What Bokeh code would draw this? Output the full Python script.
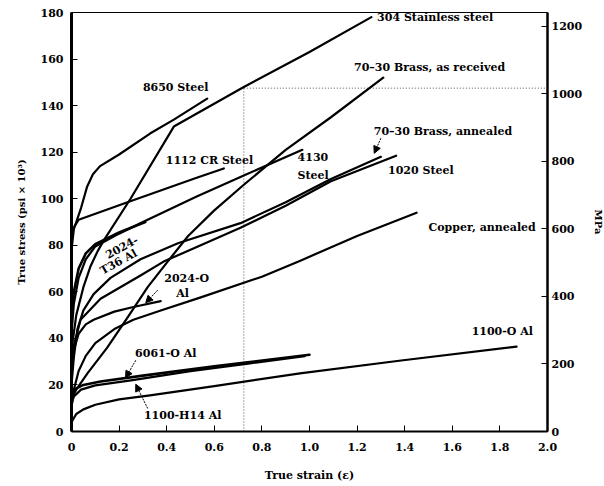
from bokeh.plotting import figure
from bokeh.models import Range1d, LinearAxis, FixedTicker, Label, Arrow, NormalHead
from bokeh.embed import file_html
from bokeh.resources import INLINE

# ---------------- data (true strain, true stress in ksi) ----------------
strain_304 = [0, 0.02, 0.05, 0.08, 0.11, 0.135, 0.248, 0.43, 0.724, 1.0, 1.26]
stress_304 = [35, 50, 62, 71, 77.5, 82, 100, 131, 148, 163, 178]

strain_brass_rec = [0, 0.02, 0.067, 0.15, 0.236, 0.32, 0.404, 0.49, 0.6, 0.724, 0.9, 1.09, 1.31]
stress_brass_rec = [14, 18, 25, 36, 49, 62, 73, 84, 95, 106, 121, 135, 152]

strain_8650 = [0, 0.01, 0.04, 0.065, 0.09, 0.12, 0.2, 0.33, 0.43, 0.57]
stress_8650 = [78, 87, 96, 105, 110.5, 114, 119, 128, 134, 143]

strain_1112 = [0, 0.03, 0.25, 0.526, 0.64]
stress_1112 = [86, 91, 99, 109, 113]

strain_4130 = [0, 0.01, 0.03, 0.06, 0.1, 0.2, 0.3, 0.526, 0.724, 0.97]
stress_4130 = [42, 55, 66, 74, 79.5, 85, 90, 101, 110, 121]

strain_brass_ann = [0, 0.01, 0.025, 0.05, 0.093, 0.164, 0.29, 0.45, 0.71, 0.9, 1.09, 1.3]
stress_brass_ann = [20, 32, 44, 52, 59, 66, 74, 81, 89.5, 98.5, 108.5, 118]

strain_1020 = [0, 0.01, 0.038, 0.122, 0.29, 0.387, 0.543, 0.71, 0.9, 1.09, 1.364]
stress_1020 = [28, 37, 48, 57, 67, 73, 80, 87.5, 97, 107.5, 118.5]

strain_copper = [0, 0.01, 0.03, 0.06, 0.1, 0.18, 0.26, 0.375, 0.54, 0.8, 0.964, 1.2, 1.45]
stress_copper = [10, 18, 26, 32.5, 38, 44, 48, 52, 57.5, 66.5, 73.5, 84, 94]

strain_2024_t36 = [0, 0.01, 0.03, 0.06, 0.1, 0.2, 0.31]
stress_2024_t36 = [48, 60, 70, 76.5, 80.5, 85.5, 90]

strain_2024_o = [0, 0.01, 0.03, 0.06, 0.093, 0.18, 0.26, 0.375]
stress_2024_o = [25, 35, 42, 46, 48, 51.5, 53.5, 56]

strain_6061_o = [0, 0.01, 0.05, 0.122, 0.3, 0.6, 1.0]
stress_6061_o = [16, 18, 20, 21.5, 24, 28, 33]

strain_1100_h14 = [0, 0.01, 0.04, 0.1, 0.25, 0.5, 0.75, 0.98]
stress_1100_h14 = [12, 15, 18, 19.8, 22, 25.9, 29.3, 32.4]

strain_1100_o = [0, 0.02, 0.05, 0.1, 0.2, 0.33, 0.6, 0.96, 1.385, 1.87]
stress_1100_o = [4, 7.5, 9.5, 11.5, 13.8, 15.5, 19.5, 25, 30.5, 36.5]

# guide lines (dotted)
guide_strain = 0.724
guide_stress = 147.5

x_ticks = [0, 0.2, 0.4, 0.6, 0.8, 1.0, 1.2, 1.4, 1.6, 1.8, 2.0]
x_tick_labels = ["0", "0.2", "0.4", "0.6", "0.8", "1.0", "1.2", "1.4", "1.6", "1.8", "2.0"]
y_ticks = [0, 20, 40, 60, 80, 100, 120, 140, 160, 180]
mpa_ticks = [0, 200, 400, 600, 800, 1000, 1200]
KSI_TO_MPA = 6.895

FONT = "DejaVu Serif"

p = figure(frame_width=476, frame_height=419,
           x_range=Range1d(0, 2.0), y_range=Range1d(0, 180),
           output_backend="svg", toolbar_location=None,
           min_border_left=71, min_border_right=20, min_border_top=12,
           min_border_bottom=47)
p.extra_y_ranges = {"mpa": Range1d(0, 180 * KSI_TO_MPA)}
p.xgrid.visible = False
p.ygrid.visible = False
p.outline_line_color = "black"
p.outline_line_width = 1
p.background_fill_color = "white"
p.border_fill_color = "white"


def style_axis(ax):
    ax.major_label_text_font = FONT
    ax.major_label_text_font_style = "bold"
    ax.major_label_text_font_size = "11px"
    ax.major_label_text_color = "black"
    ax.major_tick_in = 6
    ax.major_tick_out = 0
    ax.minor_tick_in = 0
    ax.minor_tick_out = 0
    ax.major_tick_line_color = "black"
    ax.axis_line_color = "black"
    ax.axis_label_text_font = FONT
    ax.axis_label_text_font_style = "bold"
    ax.axis_label_text_font_size = "10px"
    ax.axis_label_text_color = "black"


xa = p.xaxis[0]
style_axis(xa)
xa.ticker = FixedTicker(ticks=x_ticks)
xa.major_label_overrides = {t: s for t, s in zip(x_ticks, x_tick_labels)}
xa.axis_line_width = 2
xa.major_label_standoff = 11
xa.axis_label = "True strain (ε)"
xa.axis_label_text_font_size = "11px"
xa.axis_label_standoff = 15

ya = p.yaxis[0]
style_axis(ya)
ya.ticker = FixedTicker(ticks=y_ticks)
ya.axis_line_width = 3
ya.major_label_standoff = 8
ya.axis_label = "True stress (psi × 10³)"
ya.axis_label_standoff = 11

ra = LinearAxis(y_range_name="mpa", ticker=FixedTicker(ticks=mpa_ticks))
style_axis(ra)
ra.axis_line_width = 2.5
ra.major_label_standoff = 4
ra.axis_label = "MPa"
ra.axis_label_standoff = 8
p.add_layout(ra, "right")

# guide lines
p.segment(x0=[guide_strain, guide_strain], y0=[0, guide_stress],
          x1=[guide_strain, 2.0], y1=[guide_stress, guide_stress],
          line_color="#555555", line_width=1, line_dash="1 2")

# curves
curves = [
    (strain_304, stress_304, 2.2),
    (strain_brass_rec, stress_brass_rec, 2.2),
    (strain_8650, stress_8650, 2.2),
    (strain_1112, stress_1112, 2.2),
    (strain_4130, stress_4130, 2.2),
    (strain_brass_ann, stress_brass_ann, 2.2),
    (strain_1020, stress_1020, 2.2),
    (strain_copper, stress_copper, 2.2),
    (strain_2024_t36, stress_2024_t36, 2.6),
    (strain_2024_o, stress_2024_o, 2.2),
    (strain_6061_o, stress_6061_o, 2.6),
    (strain_1100_h14, stress_1100_h14, 2.2),
    (strain_1100_o, stress_1100_o, 2.2),
]
for xs, ys, w in curves:
    p.line(xs, ys, line_color="black", line_width=w, line_join="round", line_cap="round")

# labels: (text, x, y, align, angle)
labels = [
    ("304 Stainless steel", 1.284, 178.0, "left", 0),
    ("70–30 Brass, as received", 1.187, 156.3, "left", 0),
    ("8650 Steel", 0.30, 147.7, "left", 0),
    ("1112 CR Steel", 0.396, 116.3, "left", 0),
    ("4130", 0.95, 117.8, "left", 0),
    ("Steel", 0.95, 109.8, "left", 0),
    ("70–30 Brass, annealed", 1.27, 129.0, "left", 0),
    ("1020 Steel", 1.33, 112.0, "left", 0),
    ("Copper, annealed", 1.50, 87.5, "left", 0),
    ("2024-O", 0.484, 65.9, "center", 0),
    ("Al", 0.467, 59.4, "center", 0),
    ("6061-O Al", 0.396, 33.6, "center", 0),
    ("1100-H14 Al", 0.467, 6.9, "center", 0),
    ("1100-O Al", 1.81, 43.0, "center", 0),
    ("2024-", 0.211, 79.2, "center", 0.5),
    ("T36 Al", 0.198, 72.8, "center", 0.5),
]
for text, x, y, align, ang in labels:
    p.add_layout(Label(x=x, y=y, text=text, text_align=align, text_baseline="middle",
                       angle=ang, text_font=FONT, text_font_style="bold",
                       text_font_size="11px", text_color="black"))

# pointer arrows: (x_start, y_start, x_end, y_end)
arrows = [
    (0.362, 60.7, 0.312, 55.3),
    (0.27, 30.6, 0.227, 23.0),
    (0.32, 9.9, 0.27, 20.3),
    (1.30, 126.0, 1.272, 119.5),
]
for x0, y0, x1, y1 in arrows:
    p.add_layout(Arrow(end=NormalHead(size=7, fill_color="black", line_color="black"),
                       x_start=x0, y_start=y0, x_end=x1, y_end=y1,
                       line_color="black", line_width=1, line_dash="2 1"))

open("out.html", "w").write(file_html(p, INLINE))
